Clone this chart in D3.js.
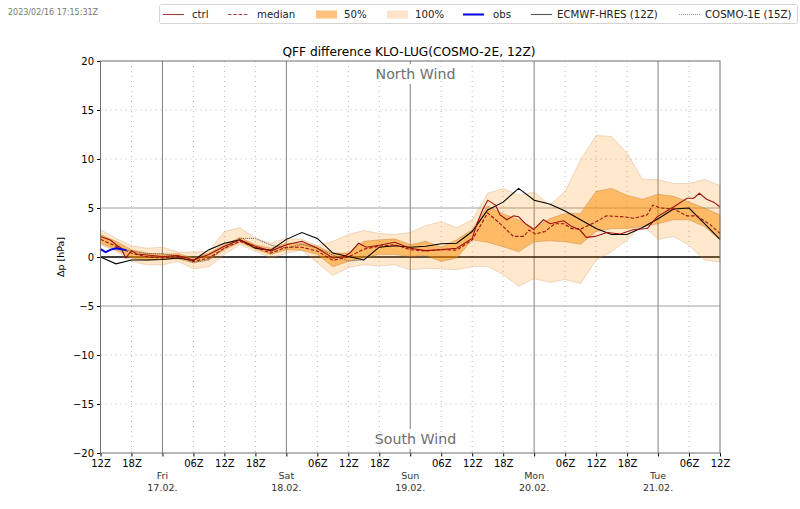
<!DOCTYPE html>
<html>
<head>
<meta charset="utf-8">
<script src="https://cdn.jsdelivr.net/npm/d3@7"></script>
<style>
  body { margin: 0; background: #fff; }
  text { font-family: "DejaVu Sans", sans-serif; }
</style>
</head>
<body>
<div id="chart"></div>
<script>
// lead time in hours after 16.02. 12Z
const leadHours = [0,3,6,9,12,15,18,21,24,27,30,33,36,39,42,45,48,51,54,57,60,63,66,69,72,75,78,81,84,87,90,93,96,99,102,105,108,111,114,117,120];

const band100Upper = [2.8,1.9,1.15,0.9,1.0,0.5,0.5,0.6,2.6,3.0,1.9,1.4,1.9,1.8,1.15,1.6,2.3,2.7,2.4,2.3,2.5,3.2,3.6,3.0,3.8,6.5,7.0,6.3,6.6,5.3,6.7,9.9,12.4,12.3,10.6,7.9,7.9,7.5,7.5,7.9,7.3];
const band100Lower = [1.25,0.6,-0.45,-0.8,-0.8,-0.45,-1.2,-1.0,0.25,1.25,0.6,-0.1,0.4,0.7,-0.6,-1.9,-1.1,-0.8,-0.9,-0.8,-1.3,-1.15,-1.2,-1.3,-1.0,-0.95,-1.8,-3.0,-2.2,-2.6,-2.3,-2.7,-0.3,0.55,1.7,3.3,1.8,2.1,1.2,-0.3,-0.5];
const band50Upper = [2.3,1.6,0.75,0.4,0.25,0.35,-0.1,0.4,1.25,2.0,1.25,0.9,1.4,1.4,1.1,0.4,0.4,1.6,1.75,1.85,1.25,1.6,1.0,1.75,2.8,5.2,4.4,3.8,2.9,3.9,4.45,4.45,6.7,7.0,6.3,5.9,6.4,6.2,5.6,5.0,4.3];
const band50Lower = [1.4,0.75,-0.1,-0.35,-0.25,-0.2,-0.6,-0.25,0.75,1.5,0.8,0.25,0.75,0.7,0.25,-1.0,-0.45,-0.1,0.25,0.25,0.05,0.15,-0.45,-0.1,1.75,1.5,1.05,0.55,1.55,1.65,1.55,1.3,2.6,2.9,2.9,3.1,3.4,3.8,3.8,3.1,1.75];
const ecmwfValues = [0,-0.7,-0.3,-0.3,-0.25,-0.1,-0.35,0.75,1.4,1.75,0.9,0.7,1.8,2.5,1.9,0.4,0.05,-0.3,1.0,1.15,1.0,1.1,1.35,1.4,2.6,4.8,5.6,7.0,5.8,5.4,4.7,3.8,2.9,2.3,2.3,3.0,3.9,4.9,5.0,3.4,1.8];

const ctrlHours = [0,2,3,4,4.9,6,7,9,12,15,18,21,24,27,30,33,36,39,42,45,47,48.3,50,51.5,54,57,60,63,66,69,72,73,74,75,76.5,77.4,78.7,80,81,82.3,83.9,85.8,87.1,89.7,91.3,92.9,94.1,95.8,98.1,100.7,103.3,105.9,107.8,111,113.6,114.9,116,117.4,118.8,120];
const ctrlValues = [2.1,1.7,1.25,0.9,-0.1,0.65,0.3,0.2,0.05,0.15,-0.3,0.25,1.1,1.75,1.1,0.6,1.25,1.6,0.9,-0.1,0,0.4,1.4,1.0,1.2,1.5,0.9,0.65,0.75,0.9,1.9,3.5,4.8,5.8,5.3,4.3,3.8,4.2,4.1,3.4,2.8,3.8,3.4,3.7,3.1,2.75,2.0,2.1,2.5,2.35,2.8,2.9,4.1,5.1,6.0,6.0,6.5,5.9,5.6,5.1];
const medianHours = [0,3,6,9,12,15,18,21,24,27,30,33,36,39,42,45,48,51,54,57,60,63,66,69,72,75,77.4,80,82,83,84.2,86.1,88,89.7,91.3,93.2,96,98,101.3,103.3,105.9,107,108.5,111,113.6,115.5,118.1,120];
const medianValues = [1.8,1.1,0.4,0,-0.1,0.05,-0.45,-0.1,0.9,1.6,1.0,0.4,1.0,1.0,0.6,-0.35,0,0.8,1.1,1.25,0.75,0.6,0.75,0.7,1.75,4.5,3.4,2.1,2.1,2.75,2.35,2.6,3.4,3.4,2.9,2.9,3.6,4.2,4.1,3.95,4.3,5.3,5.0,4.9,4.2,4.2,3.3,2.4];

const cosmoHours = [3,6,9,12,15,18,21,24,27,30,33,36,39,42,45,48,51];
const cosmoValues = [1.0,0.6,0.35,0.35,0.1,-0.55,-0.3,0.9,1.9,1.9,1.2,0.9,1.3,0.9,0.2,-0.4,-0.3];

const obsHours = [0,1,2,3,4,5];
const obsValues = [0.8,0.5,0.75,0.9,0.8,0.7];

const tickHours = [0,6,12,18,24,30,36,42,48,54,60,66,72,78,84,90,96,102,108,114,120];
const dayHours = [12,36,60,84,108];
const dayNames = ["Fri","Sat","Sun","Mon","Tue"];
const dayDates = ["17.02.","18.02.","19.02.","20.02.","21.02."];
const yTicks = [-20,-15,-10,-5,0,5,10,15,20];

const width = 800, height = 509;
const margin = { top: 61, right: 80, bottom: 56, left: 100.5 };

const x = d3.scaleLinear().domain([0, 120]).range([margin.left, width - margin.right]);
const y = d3.scaleLinear().domain([-20, 20]).range([height - margin.bottom, margin.top]);

const svg = d3.select("#chart").append("svg")
    .attr("width", width).attr("height", height)
    .style("display", "block");

const dayTicks = new Set(dayHours);
const hourLabel = h => String((h + 12) % 24).padStart(2, "0") + "Z";

// grid
const vGrid = svg.append("g");
vGrid.selectAll("line").data(tickHours.filter(h => h > 0 && h < 120)).enter().append("line")
    .attr("x1", d => x(d)).attr("x2", d => x(d))
    .attr("y1", y(20)).attr("y2", y(-20))
    .attr("stroke", d => dayTicks.has(d) ? "#808080" : "#b8b8b8")
    .attr("stroke-dasharray", d => dayTicks.has(d) ? null : "1,4");

const hGrid = svg.append("g");
hGrid.selectAll("line").data(yTicks.filter(v => Math.abs(v) < 20)).enter().append("line")
    .attr("x1", x(0)).attr("x2", x(120))
    .attr("y1", d => y(d)).attr("y2", d => y(d))
    .attr("stroke", d => d === 0 ? "#000" : Math.abs(d) === 5 ? "#a0a0a0" : "#b8b8b8")
    .attr("stroke-width", d => d === 0 ? 1.5 : 1)
    .attr("stroke-dasharray", d => (d === 0 || Math.abs(d) === 5) ? null : "1,4");

// bands
const band = (upper, lower) => d3.area()
    .x(d => x(d))
    .y0((d, i) => y(lower[i]))
    .y1((d, i) => y(upper[i]));

svg.append("path").datum(leadHours)
    .attr("d", band(band100Upper, band100Lower))
    .attr("fill", "#ff8c00").attr("fill-opacity", 0.2)
    .attr("stroke", "#c89060").attr("stroke-opacity", 0.3);
svg.append("path").datum(leadHours)
    .attr("d", band(band50Upper, band50Lower))
    .attr("fill", "#ff8c00").attr("fill-opacity", 0.5)
    .attr("stroke", "#b07030").attr("stroke-opacity", 0.35);

// lines
const lineOf = (hours, values) => d3.line().x((d, i) => x(hours[i])).y(d => y(d))(values);

svg.append("path").attr("d", lineOf(cosmoHours, cosmoValues))
    .attr("fill", "none").attr("stroke", "#555").attr("stroke-dasharray", "1,1");
svg.append("path").attr("d", lineOf(leadHours, ecmwfValues))
    .attr("fill", "none").attr("stroke", "#000").attr("stroke-width", 1.1);
svg.append("path").attr("d", lineOf(ctrlHours, ctrlValues))
    .attr("fill", "none").attr("stroke", "#9c1010").attr("stroke-width", 1.1);
svg.append("path").attr("d", lineOf(medianHours, medianValues))
    .attr("fill", "none").attr("stroke", "#9c1010").attr("stroke-width", 1.1).attr("stroke-dasharray", "3.5,1.8");
svg.append("path").attr("d", lineOf(obsHours, obsValues))
    .attr("fill", "none").attr("stroke", "#0000e0").attr("stroke-width", 2);

// axes
const xAxis = svg.append("g").attr("transform", `translate(0,${y(-20)})`)
    .call(d3.axisBottom(x).tickValues(tickHours).tickSize(3.5).tickPadding(3)
        .tickFormat(h => dayTicks.has(h) ? "" : hourLabel(h)));
xAxis.call(g => g.select(".domain").remove());
xAxis.selectAll("text").attr("font-size", 10).attr("font-family", "DejaVu Sans").attr("fill", "#000");

const yAxis = svg.append("g").attr("transform", `translate(${x(0)},0)`)
    .call(d3.axisLeft(y).tickValues(yTicks).tickSize(3.5).tickPadding(3));
yAxis.call(g => g.select(".domain").remove());
yAxis.selectAll("text").attr("font-size", 10).attr("font-family", "DejaVu Sans").attr("fill", "#000");

svg.append("rect")
    .attr("x", x(0)).attr("y", y(20))
    .attr("width", x(120) - x(0)).attr("height", y(-20) - y(20))
    .attr("fill", "none").attr("stroke", "#707070");

// day labels
dayHours.forEach((h, i) => {
    svg.append("text").attr("x", x(h)).attr("y", 479).attr("text-anchor", "middle")
        .attr("font-size", 9.5).attr("fill", "#333").text(dayNames[i]);
    svg.append("text").attr("x", x(h)).attr("y", 491).attr("text-anchor", "middle")
        .attr("font-size", 9.5).attr("fill", "#333").text(dayDates[i]);
});

// wind labels, white box hides the grid line behind them
const windLabel = (label, baseline) => {
    const t = svg.append("text").attr("x", 415.5).attr("y", baseline)
        .attr("text-anchor", "middle").attr("font-size", 14.2).attr("fill", "#6e6e6e").text(label);
    const b = t.node().getBBox();
    svg.insert("rect", () => t.node())
        .attr("x", x(60) - 1).attr("y", b.y - 2)
        .attr("width", 2).attr("height", b.height + 4).attr("fill", "#fff");
};
windLabel("North Wind", 79);
windLabel("South Wind", 444);

// texts
svg.append("text").attr("x", 409).attr("y", 56).attr("text-anchor", "middle")
    .attr("font-size", 12.2).attr("fill", "#000").text("QFF difference KLO-LUG(COSMO-2E, 12Z)");
svg.append("text").attr("x", 8).attr("y", 15)
    .attr("font-size", 8).attr("fill", "#777").text("2023/02/16 17:15:31Z");
svg.append("text")
    .attr("transform", `translate(64,${y(0)}) rotate(-90)`).attr("text-anchor", "middle")
    .attr("font-size", 9.5).attr("fill", "#000").text("Δp [hPa]");

// legend
const legendLabels = ["ctrl","median","50%","100%","obs","ECMWF-HRES (12Z)","COSMO-1E (15Z)"];
const legendSwatchX = [163,228,316,387,463,531,679];
const legendTextX = [192,257,344,415,493,557,705];
const legendStyles = [
    { stroke: "#a04040", w: 1.1 },
    { stroke: "#a04040", w: 1.1, dash: "3.5,1.8" },
    { fill: "#ffc080" },
    { fill: "#ffe4ca" },
    { stroke: "#0000e0", w: 2 },
    { stroke: "#555", w: 1.1 },
    { stroke: "#999", w: 1, dash: "1,1" }
];
const legend = svg.append("g");
legend.append("rect").attr("x", 159.5).attr("y", 4.5).attr("width", 638).attr("height", 19).attr("rx", 2)
    .attr("fill", "#fff").attr("stroke", "#d5d5d5");
legendLabels.forEach((label, i) => {
    const s = legendStyles[i];
    if (s.fill) {
        legend.append("rect").attr("x", legendSwatchX[i]).attr("y", 10.5).attr("width", 21).attr("height", 8).attr("fill", s.fill);
    } else {
        legend.append("line").attr("x1", legendSwatchX[i]).attr("x2", legendSwatchX[i] + 21)
            .attr("y1", 14.5).attr("y2", 14.5)
            .attr("stroke", s.stroke).attr("stroke-width", s.w).attr("stroke-dasharray", s.dash || null);
    }
    legend.append("text").attr("x", legendTextX[i]).attr("y", 18)
        .attr("font-size", 10.2).attr("fill", "#222").text(label);
});
</script>
</body>
</html>
